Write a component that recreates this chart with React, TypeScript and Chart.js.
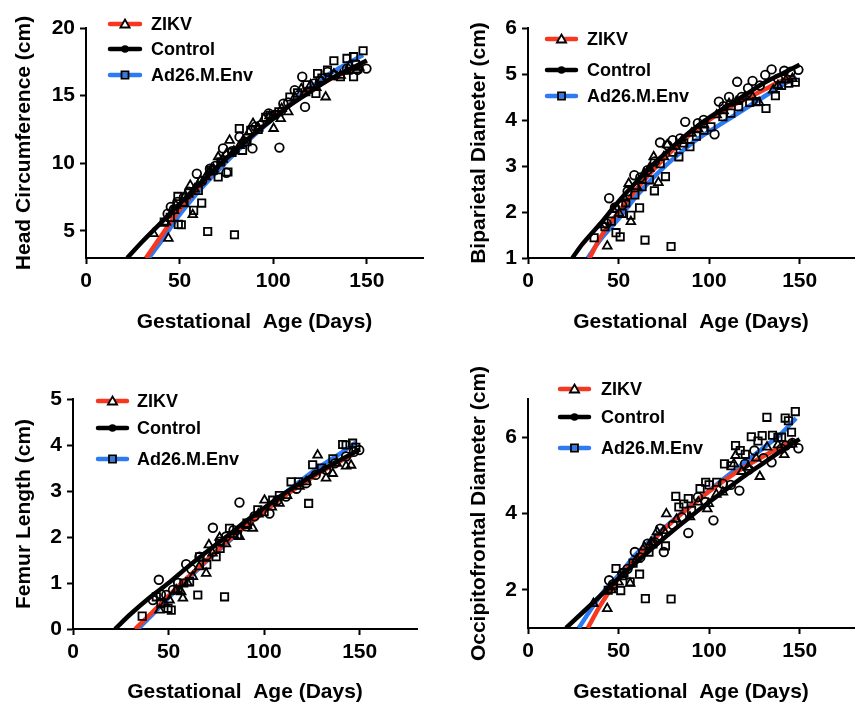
import React, { useEffect, useRef } from 'react';
import { Chart, registerables } from 'chart.js';

Chart.register(...registerables);

const FONT = "'Liberation Sans', Arial, Helvetica, sans-serif";
const RED = '#f8371f';
const BLUE = '#2c7bf5';
const BLACK = '#000000';

const xTickValues = [0, 50, 100, 150];
const xTitle = 'Gestational  Age (Days)';
const legendLabels = ['ZIKV', 'Control', 'Ad26.M.Env'];

// ---------- Head circumference ----------
const hcTicks = [5, 10, 15, 20];
const hcZikvPts = [[36, 4.8], [44, 4.45], [42.7, 5.65], [47, 6.5], [48, 6.9], [52.3, 7.0], [53, 7.6], [57, 6.2], [55.7, 8.37], [58, 8.1], [61, 8.7], [64, 9.0], [66, 9.35], [68, 9.6], [70.6, 10.47], [73, 10.3], [75, 10.7], [76.7, 11.7], [79, 10.9], [82, 11.3], [84, 11.7], [87, 12.3], [89.2, 12.94], [92, 12.6], [95, 13.3], [98, 13.5], [100.2, 12.57], [104, 13.3], [104.5, 14.05], [108, 13.8], [111.5, 14.9], [115, 15.5], [117, 15.2], [120, 15.8], [123, 15.6], [125.4, 16.15], [128, 14.9], [132.4, 16.6], [136, 16.5], [139.4, 16.8], [141, 17.26], [144.6, 16.9], [146, 17.1]];
const hcControlPts = [[43.6, 6.27], [45.3, 6.77], [47, 6.6], [48.8, 7.14], [52.3, 7.5], [55, 7.9], [59.2, 9.23], [62, 8.7], [66.2, 9.6], [69, 9.8], [73.2, 11.1], [75, 9.3], [78, 10.9], [82, 11.95], [85, 11.6], [88.9, 11.1], [90.6, 12.7], [93, 12.8], [97.6, 13.68], [101, 13.6], [103.3, 11.16], [105.4, 14.4], [108, 14.5], [111.5, 15.4], [115.5, 16.4], [117, 14.17], [122, 15.9], [125, 16.1], [129, 16.76], [133, 16.5], [139.4, 17.0], [145, 16.9], [149.8, 17.0]];
const hcAd26Pts = [[41.8, 5.65], [45, 6.0], [49.1, 7.55], [49.3, 5.48], [50.9, 5.46], [52.3, 7.14], [55, 7.8], [57.5, 6.52], [60, 8.0], [61.8, 7.06], [65, 4.96], [66.7, 9.48], [68, 9.5], [70.6, 8.99], [72, 10.1], [75.8, 9.36], [78, 10.8], [79.3, 4.72], [81.9, 12.57], [83.6, 10.96], [86, 11.6], [88, 12.44], [92, 12.5], [96, 13.4], [98.4, 13.55], [103, 13.8], [108.9, 14.9], [113, 15.2], [118, 15.8], [122.8, 15.16], [123.7, 16.64], [126, 16.3], [129, 16.89], [132.4, 17.58], [135.9, 16.4], [139.4, 17.75], [142.9, 17.88], [142.9, 16.4], [144, 17.3], [148, 18.32]];
const hcZikvFit = [[32, 3], [40, 4.6], [50, 6.6], [60, 8.2], [70, 9.7], [80, 11.0], [90, 12.2], [100, 13.4], [110, 14.4], [120, 15.4], [130, 16.2], [140, 16.8], [148, 17.2]];
const hcControlFit = [[22, 3], [30, 4.2], [40, 5.6], [50, 7.0], [60, 8.4], [70, 9.7], [80, 11.0], [90, 12.2], [100, 13.3], [110, 14.4], [120, 15.3], [130, 16.2], [140, 16.9], [150, 17.6]];
const hcAd26Fit = [[33.5, 3], [40, 4.2], [50, 6.2], [60, 7.9], [70, 9.4], [80, 10.8], [90, 12.1], [100, 13.3], [110, 14.5], [120, 15.6], [130, 16.6], [140, 17.4], [148, 18.0]];

// ---------- Biparietal diameter ----------
const bpdTicks = [1, 2, 3, 4, 5, 6];
const bpdZikvPts = [[41.7, 1.72], [43.75, 1.26], [47, 2.05], [50.3, 1.97], [53, 2.3], [55.6, 2.62], [56.8, 1.79], [60, 2.55], [64.2, 2.84], [67, 2.95], [69.4, 3.2], [72, 2.64], [75, 3.2], [76.9, 3.46], [81.6, 3.42], [85, 3.55], [90.3, 3.71], [94, 3.8], [97.2, 3.89], [104.2, 4.11], [108, 4.2], [111, 4.36], [115, 4.4], [119.8, 4.51], [124, 4.5], [127.6, 4.38], [135.4, 4.65], [138, 4.75], [142.4, 4.87], [146, 4.9]];
const bpdControlPts = [[43.4, 1.75], [44.8, 2.3], [48, 2.1], [52, 2.15], [55, 2.45], [58.7, 2.8], [62, 2.75], [66, 2.91], [70, 3.1], [72.9, 3.51], [77, 3.45], [79.9, 3.56], [84, 3.6], [86.8, 3.96], [93.8, 3.93], [97, 4.0], [103, 3.69], [105.4, 4.4], [108, 4.3], [111, 4.5], [115.5, 4.83], [118, 4.5], [121.5, 4.69], [124, 4.85], [128, 4.75], [131, 4.98], [134.5, 5.1], [138, 4.9], [141.5, 5.07], [145, 5.05], [149.3, 5.09]];
const bpdAd26Pts = [[36.5, 1.44], [42.5, 1.68], [46, 1.8], [48.6, 1.55], [50.9, 1.46], [52, 1.97], [54, 2.2], [56.8, 1.93], [59, 2.37], [61.6, 2.09], [63, 2.55], [64.6, 1.39], [67, 2.7], [69.8, 2.46], [73, 3.05], [75.9, 2.77], [79, 1.25], [80, 3.3], [83.3, 3.2], [86, 3.5], [89.4, 3.42], [93, 3.65], [97.2, 3.78], [101, 3.85], [107.6, 4.07], [112, 4.15], [116.3, 4.29], [122.4, 4.38], [126, 4.4], [131.4, 4.25], [136.6, 4.53], [140, 4.75], [144, 4.8], [147.6, 4.82]];
const bpdZikvFit = [[34, 1], [40, 1.45], [50, 2.0], [60, 2.5], [70, 2.95], [80, 3.35], [90, 3.7], [100, 4.0], [110, 4.25], [120, 4.45], [130, 4.65], [140, 4.85], [147, 4.95]];
const bpdControlFit = [[24.5, 1], [30, 1.3], [40, 1.75], [50, 2.23], [60, 2.66], [70, 3.07], [80, 3.42], [90, 3.76], [100, 4.05], [110, 4.3], [120, 4.55], [130, 4.8], [140, 5.0], [150, 5.2]];
const bpdAd26Fit = [[33, 1], [40, 1.4], [50, 1.85], [60, 2.35], [70, 2.78], [80, 3.15], [90, 3.48], [100, 3.75], [110, 4.0], [120, 4.25], [130, 4.5], [140, 4.75], [148, 4.95]];

// ---------- Femur length ----------
const flTicks = [0, 1, 2, 3, 4, 5];
const flZikvPts = [[45.3, 0.41], [48, 0.55], [50.5, 0.63], [54, 0.85], [56.6, 0.81], [57.5, 0.67], [60, 1.0], [62.7, 1.14], [66, 1.35], [69.7, 1.21], [71.1, 1.83], [73, 1.65], [76.7, 1.99], [80, 1.85], [84, 2.05], [87.1, 2.01], [91, 2.25], [94.1, 2.19], [97, 2.5], [100.2, 2.8], [104, 2.65], [108, 2.73], [112, 2.9], [118.5, 3.1], [122, 3.2], [128, 3.78], [132.4, 3.28], [135.9, 3.38], [138, 3.6], [142.9, 3.54], [145.5, 3.56]];
const flControlPts = [[41.8, 0.63], [44.9, 1.07], [46, 0.75], [48.8, 0.74], [52.3, 0.85], [55, 1.0], [59.2, 1.41], [62, 1.3], [66.2, 1.57], [70, 1.6], [73.2, 2.2], [77, 1.9], [80.1, 2.01], [84, 2.15], [87.1, 2.75], [90.6, 2.23], [95, 2.45], [102.8, 2.51], [107, 2.8], [111.5, 2.88], [117, 3.05], [122, 3.17], [127, 3.35], [132.4, 3.46], [137, 3.6], [142.9, 3.75], [147, 3.85], [149.8, 3.89]];
const flAd26Pts = [[36.2, 0.28], [43.6, 0.7], [46, 0.55], [49.7, 0.45], [51.4, 0.41], [55, 0.85], [58, 1.0], [61, 1.03], [65.3, 0.74], [66.2, 1.57], [70, 1.4], [74.9, 1.57], [77, 1.75], [79.3, 0.7], [81.9, 2.19], [86, 2.05], [91, 2.3], [96.7, 2.59], [100, 2.55], [104.5, 2.8], [108, 2.9], [114.1, 3.2], [118, 3.2], [123.3, 2.73], [125.4, 3.57], [130, 3.5], [136, 3.7], [141.1, 4.01], [142.9, 4.0], [146.3, 4.04], [148, 3.95]];
const flZikvFit = [[32.5, 0], [40, 0.3], [50, 0.72], [60, 1.12], [70, 1.5], [80, 1.88], [90, 2.22], [100, 2.55], [110, 2.87], [120, 3.15], [130, 3.42], [140, 3.65], [146, 3.78]];
const flControlFit = [[22, 0], [30, 0.32], [40, 0.68], [50, 1.0], [60, 1.35], [70, 1.68], [80, 2.0], [90, 2.33], [100, 2.63], [110, 2.93], [120, 3.2], [130, 3.45], [140, 3.68], [150, 3.9]];
const flAd26Fit = [[34, 0], [40, 0.25], [50, 0.68], [60, 1.08], [70, 1.48], [80, 1.85], [90, 2.22], [100, 2.58], [110, 2.92], [120, 3.25], [130, 3.55], [140, 3.82], [148, 4.05]];

// ---------- Occipitofrontal diameter ----------
const ofdTicks = [2, 4, 6];
const ofdZikvPts = [[36.1, 1.64], [43.75, 1.51], [46, 2.0], [50, 2.2], [52.1, 2.34], [56.4, 2.17], [60, 2.8], [64.2, 3.12], [68, 3.25], [71.2, 3.52], [75, 3.55], [76.4, 3.99], [82, 3.85], [89.4, 3.91], [94, 4.3], [99, 4.12], [99.8, 4.26], [104, 4.5], [107.6, 4.56], [113.7, 5.3], [114.6, 5.52], [118, 5.1], [121.5, 5.21], [126, 5.45], [128, 4.97], [132, 5.74], [138, 5.8], [141.5, 5.54], [145.8, 5.82]];
const ofdControlPts = [[44.8, 2.25], [47, 2.15], [52.1, 2.43], [55, 2.55], [59, 2.99], [62, 2.85], [66, 3.21], [70, 3.25], [72.9, 3.6], [75, 2.99], [80, 3.7], [85, 3.9], [88.5, 3.49], [93.8, 4.43], [98, 4.3], [102.4, 3.82], [107.6, 4.78], [112, 4.75], [116.7, 4.6], [119.8, 5.3], [122, 5.15], [125, 5.65], [130, 5.45], [134.5, 5.34], [140, 5.7], [142.4, 5.78], [146, 5.85], [149.3, 5.71]];
const ofdAd26Pts = [[44.3, 1.99], [47, 2.1], [48.6, 2.56], [51.2, 1.98], [53, 2.45], [56.4, 2.21], [58, 2.7], [61.6, 2.41], [64.8, 1.77], [66.8, 2.99], [69, 3.2], [72, 3.35], [75.9, 3.15], [79, 1.76], [81.6, 4.45], [83.3, 4.17], [86, 4.25], [88.5, 4.39], [90.3, 4.08], [95, 4.65], [98.1, 4.82], [100, 4.75], [104.2, 4.82], [108.5, 5.3], [112, 5.25], [114.6, 5.78], [117.2, 5.65], [120, 5.55], [123.3, 6.01], [127, 5.9], [129.3, 6.04], [131.9, 6.52], [135, 6.05], [138, 5.99], [140, 6.0], [142, 6.5], [143.8, 6.43], [145.5, 6.13], [147.6, 6.67]];
const ofdZikvFit = [[33, 1], [40, 1.6], [50, 2.3], [60, 2.85], [70, 3.35], [80, 3.8], [90, 4.2], [100, 4.58], [110, 4.92], [120, 5.23], [130, 5.5], [140, 5.75], [146, 5.9]];
const ofdControlFit = [[21, 1], [30, 1.4], [40, 1.85], [50, 2.3], [60, 2.73], [70, 3.15], [80, 3.55], [90, 3.93], [100, 4.3], [110, 4.65], [120, 5.0], [130, 5.32], [140, 5.65], [150, 5.95]];
const ofdAd26Fit = [[28, 1], [40, 1.85], [50, 2.38], [60, 2.95], [70, 3.4], [80, 3.82], [90, 4.22], [100, 4.6], [110, 4.98], [120, 5.35], [130, 5.72], [140, 6.1], [148, 6.5]];

const panels = [
  {
    key: 'hc', title: 'Head Circumference (cm)', yMin: 3, yMax: 20, yTicks: hcTicks,
    pts: [hcZikvPts, hcControlPts, hcAd26Pts], fits: [hcZikvFit, hcControlFit, hcAd26Fit],
    box: { left: 0, top: 0, w: 430, h: 345 }, yWidth: 86, padTop: 28, padRight: 1, xHeight: 87, xTitlePad: 10.4,
    legend: { x0: 110, x1: 140, tx: 151, ys: [24, 49, 75] },
  },
  {
    key: 'bpd', title: 'Biparietal Diameter (cm)', yMin: 1, yMax: 6, yTicks: bpdTicks,
    pts: [bpdZikvPts, bpdControlPts, bpdAd26Pts], fits: [bpdZikvFit, bpdControlFit, bpdAd26Fit],
    box: { left: 455, top: 0, w: 406, h: 345 }, yWidth: 73, padTop: 28, padRight: 1, xHeight: 87, xTitlePad: 10.4,
    legend: { x0: 92, x1: 121, tx: 132, ys: [39, 70, 96] },
  },
  {
    key: 'fl', title: 'Femur Length (cm)', yMin: 0, yMax: 5, yTicks: flTicks,
    pts: [flZikvPts, flControlPts, flAd26Pts], fits: [flZikvFit, flControlFit, flAd26Fit],
    box: { left: 0, top: 355, w: 430, h: 351 }, yWidth: 73, padTop: 44, padRight: 13, xHeight: 77, xTitlePad: 1.4,
    legend: { x0: 98, x1: 127, tx: 137, ys: [46, 73, 104] },
  },
  {
    key: 'ofd', title: 'Occipitofrontal Diameter (cm)', yMin: 1, yMax: 7, yTicks: ofdTicks,
    pts: [ofdZikvPts, ofdControlPts, ofdAd26Pts], fits: [ofdZikvFit, ofdControlFit, ofdAd26Fit],
    box: { left: 455, top: 355, w: 406, h: 351 }, yWidth: 73, padTop: 44, padRight: 1, xHeight: 78, xTitlePad: 1.4,
    legend: { x0: 105, x1: 134, tx: 146, ys: [34, 62, 93] },
  },
];

const toXY = (arr: number[][]) => arr.map(([x, y]) => ({ x, y }));

const seriesColors = [RED, BLACK, BLUE];
const seriesMarkers = ['triangle', 'circle', 'rect'];
const markerRadius = [5, 4.3, 5.2];

function drawMarker(ctx: CanvasRenderingContext2D, kind: string, x: number, y: number) {
  ctx.save();
  ctx.lineWidth = 1.8;
  ctx.strokeStyle = '#000';
  ctx.beginPath();
  if (kind === 'triangle') {
    ctx.moveTo(x, y - 4.5);
    ctx.lineTo(x + 4.6, y + 3.5);
    ctx.lineTo(x - 4.6, y + 3.5);
    ctx.closePath();
    ctx.fillStyle = '#fff';
    ctx.fill();
    ctx.stroke();
  } else if (kind === 'circle') {
    ctx.arc(x, y, 3.8, 0, Math.PI * 2);
    ctx.fillStyle = '#000';
    ctx.fill();
  } else {
    ctx.rect(x - 3.5, y - 3.5, 7, 7);
    ctx.stroke();
  }
  ctx.restore();
}

const legendPlugin = {
  id: 'customLegend',
  afterDraw(chart: any, _args: any, opts: any) {
    const ctx: CanvasRenderingContext2D = chart.ctx;
    legendLabels.forEach((label, i) => {
      const y = opts.ys[i];
      ctx.save();
      ctx.strokeStyle = seriesColors[i];
      ctx.lineWidth = 4.5;
      ctx.lineCap = 'round';
      ctx.beginPath();
      ctx.moveTo(opts.x0, y);
      ctx.lineTo(opts.x1, y);
      ctx.stroke();
      ctx.restore();
      drawMarker(ctx, seriesMarkers[i], (opts.x0 + opts.x1) / 2, y);
      ctx.save();
      ctx.fillStyle = '#000';
      ctx.font = `bold 18px ${FONT}`;
      ctx.textBaseline = 'middle';
      ctx.textAlign = 'left';
      ctx.fillText(label, opts.tx, y + 1);
      ctx.restore();
    });
  },
};

function buildConfig(p: any) {
  const fitOrder = [2, 1, 3];
  const datasets: any[] = [];
  p.pts.forEach((arr: number[][], i: number) => {
    datasets.push({
      label: legendLabels[i] + ' data',
      data: toXY(arr),
      showLine: false,
      pointStyle: seriesMarkers[i],
      pointRadius: markerRadius[i],
      pointBorderWidth: 1.8,
      pointBorderColor: '#000',
      pointBackgroundColor: 'rgba(0,0,0,0)',
      order: 0,
    });
  });
  p.fits.forEach((arr: number[][], i: number) => {
    datasets.push({
      label: legendLabels[i] + ' fit',
      data: toXY(arr),
      showLine: true,
      pointRadius: 0,
      borderColor: seriesColors[i],
      borderWidth: 4.5,
      cubicInterpolationMode: 'monotone',
      fill: false,
      order: fitOrder[i],
    });
  });
  const tickFont = { family: FONT, size: 21, weight: 'bold' as const };
  return {
    type: 'scatter' as const,
    data: { datasets },
    plugins: [legendPlugin],
    options: {
      responsive: false,
      animation: false as const,
      layout: { padding: { left: 0, right: p.padRight, top: p.padTop, bottom: 0 } },
      plugins: {
        legend: { display: false },
        tooltip: { enabled: false },
        customLegend: p.legend,
      },
      scales: {
        x: {
          type: 'linear' as const,
          min: 0,
          max: 180,
          afterBuildTicks: (s: any) => { s.ticks = xTickValues.map((v) => ({ value: v })); },
          afterFit: (s: any) => { s.height = p.xHeight; },
          ticks: { font: tickFont, color: '#000', padding: 5, maxRotation: 0, autoSkip: false },
          grid: { drawOnChartArea: false, drawTicks: true, tickLength: 6, tickWidth: 2, tickColor: '#000' },
          border: { display: true, color: '#000', width: 2 },
          title: { display: true, text: xTitle, font: tickFont, color: '#000', padding: { top: 0, bottom: p.xTitlePad } },
        },
        y: {
          type: 'linear' as const,
          min: p.yMin,
          max: p.yMax,
          afterBuildTicks: (s: any) => { s.ticks = p.yTicks.map((v: number) => ({ value: v })); },
          afterFit: (s: any) => { s.width = p.yWidth; },
          ticks: { font: tickFont, color: '#000', padding: 5, autoSkip: false },
          grid: { drawOnChartArea: false, drawTicks: true, tickLength: 6, tickWidth: 2, tickColor: '#000' },
          border: { display: true, color: '#000', width: 2 },
          title: { display: true, text: p.title, font: tickFont, color: '#000', padding: { top: 11.4, bottom: 0 } },
        },
      },
    },
  };
}

function Panel({ p }: { p: any }) {
  const ref = useRef<HTMLCanvasElement | null>(null);
  useEffect(() => {
    if (!ref.current) return;
    const chart = new Chart(ref.current, buildConfig(p) as any);
    return () => chart.destroy();
  }, [p]);
  return (
    <canvas
      ref={ref}
      width={p.box.w}
      height={p.box.h}
      style={{ position: 'absolute', left: p.box.left, top: p.box.top, width: p.box.w, height: p.box.h }}
    />
  );
}

export default function App() {
  return (
    <div style={{ position: 'absolute', left: 0, top: 0, width: 861, height: 706, background: '#fff', overflow: 'hidden' }}>
      {panels.map((p) => (
        <Panel key={p.key} p={p} />
      ))}
    </div>
  );
}
